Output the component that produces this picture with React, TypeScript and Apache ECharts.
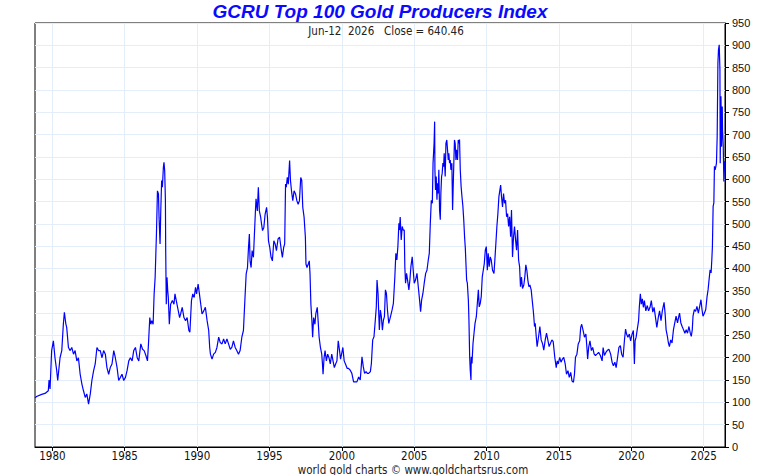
import React, { useEffect, useRef } from "react";
import * as echarts from "echarts";

const TITLE = "GCRU Top 100 Gold Producers Index";
const SUBTITLE = "Jun-12  2026   Close = 640.46";
const FOOTER = "world gold charts \u00A9 www.goldchartsrus.com";

const xTickYears = [1980, 1985, 1990, 1995, 2000, 2005, 2010, 2015, 2020, 2025];
const xMin = 1978.8;
const xMax = 2026.47;
const yMin = 0;
const yMax = 950;
const yStep = 50;

// [decimal year, index value]
const seg1978 = [
  [1978.8, 110], [1978.91, 113], [1979.26, 118], [1979.49, 120], [1979.72, 126], [1979.77, 150],
  [1979.84, 130], [1979.95, 216], [1980.07, 238], [1980.18, 200], [1980.3, 171], [1980.37, 149],
  [1980.53, 200], [1980.65, 216], [1980.76, 276], [1980.83, 302], [1980.93, 276], [1980.99, 268],
  [1981.11, 223], [1981.23, 216], [1981.34, 223], [1981.46, 208], [1981.57, 216], [1981.69, 193],
  [1981.8, 200], [1981.92, 163], [1982.04, 141], [1982.15, 126], [1982.27, 111], [1982.38, 119],
  [1982.5, 96], [1982.62, 119], [1982.73, 149], [1982.85, 171], [1982.96, 186], [1983.08, 223],
  [1983.19, 216], [1983.31, 216], [1983.43, 200], [1983.54, 216], [1983.66, 208], [1983.77, 178],
  [1983.89, 163], [1984.0, 178], [1984.12, 186], [1984.24, 216], [1984.35, 200], [1984.47, 178],
  [1984.58, 149], [1984.7, 156], [1984.81, 163], [1984.93, 149], [1985.05, 156], [1985.16, 171],
  [1985.28, 193], [1985.39, 200], [1985.51, 193], [1985.62, 216], [1985.74, 223], [1985.86, 200],
  [1985.97, 193],
];

const seg1986 = [
  [1986.11, 231], [1986.23, 219], [1986.34, 216], [1986.46, 205], [1986.57, 193], [1986.64, 231],
  [1986.73, 290], [1986.8, 275], [1986.87, 283], [1986.96, 275], [1987.03, 343], [1987.1, 380],
  [1987.19, 477], [1987.26, 574], [1987.33, 567], [1987.37, 515], [1987.44, 455], [1987.49, 530],
  [1987.55, 597], [1987.6, 582], [1987.67, 627], [1987.71, 638], [1987.76, 619], [1987.81, 552],
  [1987.83, 440], [1987.87, 320], [1987.92, 380], [1987.97, 350], [1988.01, 335], [1988.08, 275],
  [1988.17, 320], [1988.29, 328], [1988.4, 320], [1988.47, 343], [1988.56, 328], [1988.7, 305],
  [1988.79, 290], [1988.86, 298], [1988.97, 313], [1989.09, 290], [1989.2, 283], [1989.31, 290],
  [1989.43, 261], [1989.5, 257], [1989.61, 328], [1989.7, 343], [1989.8, 335], [1989.89, 358],
  [1989.96, 343], [1990.07, 365], [1990.16, 343], [1990.25, 320], [1990.34, 298], [1990.46, 305],
  [1990.57, 313], [1990.69, 283], [1990.8, 261], [1990.87, 223], [1990.92, 208], [1991.03, 197],
  [1991.14, 208], [1991.26, 212], [1991.37, 223], [1991.49, 246], [1991.6, 234], [1991.72, 231],
  [1991.83, 242], [1991.94, 231], [1992.06, 242], [1992.17, 231], [1992.29, 219], [1992.4, 223],
  [1992.51, 238], [1992.63, 223], [1992.74, 216], [1992.86, 208], [1992.97, 216], [1993.09, 246],
  [1993.2, 261],
];

const seg1993 = [
  [1993.32, 343], [1993.39, 388], [1993.48, 402], [1993.55, 447], [1993.61, 477], [1993.66, 417],
  [1993.73, 402], [1993.8, 440], [1993.89, 425], [1993.95, 470], [1994.02, 522], [1994.07, 556],
  [1994.16, 529], [1994.23, 582], [1994.3, 529], [1994.39, 515], [1994.45, 500], [1994.52, 485],
  [1994.61, 492], [1994.7, 522], [1994.8, 537], [1994.86, 515], [1994.93, 462], [1995.02, 447],
  [1995.11, 425], [1995.2, 417], [1995.3, 462], [1995.39, 455], [1995.48, 440], [1995.59, 466],
  [1995.7, 470], [1995.82, 440], [1995.89, 425], [1995.98, 447], [1996.05, 455], [1996.11, 589],
  [1996.16, 582], [1996.23, 604], [1996.3, 589], [1996.39, 642], [1996.45, 597], [1996.52, 574],
  [1996.61, 552], [1996.7, 574], [1996.8, 567], [1996.89, 552], [1996.98, 544], [1997.07, 552],
  [1997.16, 604], [1997.23, 597], [1997.3, 537], [1997.39, 515], [1997.48, 470], [1997.52, 410],
  [1997.59, 402], [1997.68, 410], [1997.75, 417], [1997.8, 388], [1997.86, 320], [1997.93, 283],
  [1997.98, 246], [1998.05, 290], [1998.14, 275], [1998.2, 298], [1998.3, 313], [1998.36, 283],
  [1998.43, 246], [1998.52, 223], [1998.61, 208], [1998.66, 186], [1998.7, 163], [1998.77, 200],
  [1998.84, 216], [1998.93, 193], [1999.02, 208], [1999.11, 200], [1999.2, 186], [1999.3, 208],
  [1999.39, 193], [1999.48, 178], [1999.57, 186], [1999.66, 193], [1999.75, 238], [1999.84, 216],
  [1999.91, 197], [1999.98, 208], [2000.07, 223], [2000.16, 193], [2000.25, 186],
];

const seg2000 = [
  [2000.37, 176], [2000.46, 176], [2000.58, 172], [2000.69, 165], [2000.81, 146], [2000.93, 146],
  [2001.04, 146], [2001.16, 157], [2001.27, 150], [2001.39, 202], [2001.48, 180], [2001.57, 165],
  [2001.67, 169], [2001.76, 165], [2001.85, 165], [2001.97, 169], [2002.04, 187], [2002.13, 240],
  [2002.22, 247], [2002.31, 284], [2002.38, 314], [2002.43, 374], [2002.5, 344], [2002.59, 262],
  [2002.66, 307], [2002.73, 292], [2002.8, 262], [2002.87, 284], [2002.94, 292], [2003.01, 352],
  [2003.08, 344], [2003.15, 307], [2003.24, 277], [2003.36, 292], [2003.47, 307], [2003.56, 322],
  [2003.66, 381], [2003.73, 434], [2003.8, 419], [2003.87, 449], [2003.94, 501], [2003.98, 486],
  [2004.03, 515], [2004.1, 464], [2004.17, 494], [2004.24, 486], [2004.31, 486], [2004.35, 404],
  [2004.4, 367], [2004.47, 389], [2004.54, 374], [2004.63, 352], [2004.7, 374], [2004.77, 404],
  [2004.86, 426], [2004.93, 396], [2005.0, 367], [2005.09, 374], [2005.19, 389], [2005.28, 359],
  [2005.37, 329], [2005.44, 303], [2005.51, 329], [2005.6, 344], [2005.69, 367], [2005.79, 389],
  [2005.88, 396], [2005.97, 419], [2006.04, 434], [2006.11, 501], [2006.18, 553], [2006.25, 546],
  [2006.3, 636], [2006.37, 680], [2006.41, 729],
];

const seg2006 = [
  [2006.43, 621], [2006.47, 576], [2006.52, 606], [2006.57, 554], [2006.61, 591], [2006.66, 568],
  [2006.7, 621], [2006.75, 531], [2006.8, 509], [2006.84, 568], [2006.89, 606], [2006.93, 613],
  [2006.98, 636], [2007.03, 628], [2007.07, 658], [2007.14, 606], [2007.19, 680], [2007.25, 688],
  [2007.3, 666], [2007.35, 643], [2007.39, 658], [2007.44, 636], [2007.49, 643], [2007.53, 621],
  [2007.6, 636], [2007.65, 531], [2007.71, 606], [2007.78, 688], [2007.83, 680], [2007.88, 643],
  [2007.92, 666], [2007.99, 643], [2008.04, 688], [2008.08, 680], [2008.13, 689], [2008.18, 621],
  [2008.24, 583], [2008.3, 560], [2008.36, 540], [2008.42, 509], [2008.48, 470], [2008.53, 445],
  [2008.62, 374], [2008.67, 367], [2008.74, 329], [2008.78, 284], [2008.83, 202], [2008.87, 172],
  [2008.92, 150], [2008.94, 202], [2008.99, 187], [2009.06, 232], [2009.13, 255], [2009.2, 277],
  [2009.29, 292], [2009.36, 322], [2009.43, 352], [2009.49, 314], [2009.56, 322], [2009.63, 337],
  [2009.7, 381], [2009.77, 396], [2009.84, 411], [2009.91, 441], [2009.98, 449], [2010.05, 396],
  [2010.11, 434], [2010.18, 404], [2010.25, 426], [2010.32, 419], [2010.41, 396], [2010.51, 389],
  [2010.57, 419], [2010.64, 456], [2010.71, 494], [2010.78, 523], [2010.85, 561], [2010.92, 576],
  [2010.97, 587], [2011.03, 561], [2011.1, 538], [2011.17, 568], [2011.24, 546], [2011.31, 553],
  [2011.38, 516], [2011.45, 523], [2011.52, 494], [2011.59, 516], [2011.66, 471], [2011.72, 531],
  [2011.79, 426], [2011.86, 471], [2011.93, 494], [2012.0, 464], [2012.07, 441], [2012.14, 486],
  [2012.21, 419], [2012.28, 404], [2012.34, 359], [2012.41, 381], [2012.48, 355], [2012.57, 363],
  [2012.64, 381], [2012.71, 408], [2012.78, 396], [2012.85, 374], [2012.92, 359], [2012.99, 363],
  [2013.08, 352], [2013.15, 329], [2013.22, 307], [2013.26, 292], [2013.31, 270], [2013.36, 277],
  [2013.43, 247], [2013.49, 225], [2013.59, 247], [2013.68, 270], [2013.77, 240], [2013.86, 232],
  [2013.95, 217], [2014.05, 240], [2014.14, 255], [2014.23, 240], [2014.32, 225], [2014.41, 232],
  [2014.51, 240], [2014.6, 236], [2014.71, 201],
];

const seg2014 = [
  [2014.81, 178], [2014.88, 193], [2014.95, 186], [2015.05, 201], [2015.14, 190], [2015.24, 197],
  [2015.33, 201], [2015.43, 186], [2015.52, 163], [2015.62, 171], [2015.71, 156], [2015.81, 167],
  [2015.9, 148], [2016.0, 145], [2016.07, 163], [2016.14, 201], [2016.24, 208], [2016.33, 231],
  [2016.43, 238], [2016.5, 268], [2016.57, 275], [2016.67, 261], [2016.76, 246], [2016.86, 253],
  [2016.93, 223], [2016.98, 197], [2017.05, 223], [2017.14, 238], [2017.24, 216], [2017.33, 223],
  [2017.43, 208], [2017.52, 205], [2017.62, 208], [2017.74, 212], [2017.86, 205], [2017.98, 193],
  [2018.05, 223], [2018.14, 205], [2018.24, 212], [2018.33, 216], [2018.45, 219], [2018.57, 208],
  [2018.67, 190], [2018.76, 182], [2018.86, 190], [2018.95, 178], [2019.05, 201], [2019.14, 223],
  [2019.24, 227], [2019.33, 208], [2019.43, 201], [2019.52, 238], [2019.6, 264], [2019.67, 253],
  [2019.76, 246], [2019.86, 253], [2019.95, 238], [2020.05, 253], [2020.14, 261], [2020.21, 186],
  [2020.26, 238], [2020.33, 246], [2020.43, 268], [2020.5, 283], [2020.55, 313], [2020.62, 343],
  [2020.69, 320], [2020.76, 332], [2020.83, 313], [2020.9, 328], [2021.0, 305], [2021.1, 317],
  [2021.19, 305], [2021.29, 313], [2021.38, 328], [2021.48, 302], [2021.57, 313], [2021.67, 290],
  [2021.76, 268], [2021.86, 290], [2021.95, 305], [2022.05, 283], [2022.14, 305], [2022.26, 324],
];

const seg2022 = [
  [2022.33, 300], [2022.4, 263], [2022.49, 248], [2022.56, 233], [2022.63, 225], [2022.72, 240],
  [2022.81, 233], [2022.91, 263], [2023.0, 278], [2023.09, 293], [2023.19, 278], [2023.28, 293],
  [2023.33, 300], [2023.42, 278], [2023.51, 270], [2023.6, 263], [2023.7, 255], [2023.79, 263],
  [2023.88, 255], [2023.98, 270], [2024.07, 255], [2024.14, 248], [2024.21, 263], [2024.26, 293],
  [2024.35, 308], [2024.44, 304], [2024.53, 315], [2024.63, 300], [2024.72, 315], [2024.81, 330],
  [2024.88, 308], [2024.95, 293], [2025.05, 300], [2025.14, 308], [2025.23, 337], [2025.3, 352],
  [2025.37, 375], [2025.44, 397], [2025.51, 390], [2025.56, 420], [2025.6, 449], [2025.63, 502],
  [2025.65, 539], [2025.7, 547], [2025.74, 629], [2025.79, 621], [2025.84, 629], [2025.88, 636],
  [2025.93, 696], [2025.98, 860], [2026.02, 890], [2026.07, 901], [2026.12, 845], [2026.14, 636],
  [2026.19, 786], [2026.23, 673], [2026.28, 763], [2026.3, 711], [2026.35, 673], [2026.39, 595],
  [2026.45, 640.46],
];

const NARROW = "'Liberation Sans Narrow', 'Arial Narrow', 'DejaVu Sans Condensed', 'Liberation Sans', Arial, sans-serif";
const SANS = "'Liberation Sans', Arial, sans-serif";

export default function App() {
  const ref = useRef<HTMLDivElement>(null);

  useEffect(() => {
    if (!ref.current) return;
    const chart = echarts.init(ref.current, null, { renderer: "svg" });
    const series = [...seg1978, ...seg1986, ...seg1993, ...seg2000, ...seg2006, ...seg2014, ...seg2022];
    const gridColor = "#e3eef9";
    chart.setOption({
      animation: false,
      backgroundColor: "#ffffff",
      title: {
        text: TITLE,
        left: "center",
        top: 1,
        padding: 0,
        textStyle: {
          fontFamily: SANS,
          fontSize: 19,
          lineHeight: 21,
          fontWeight: "bold",
          fontStyle: "italic",
          color: "#0a0aff",
        },
      },
      graphic: [
        {
          type: "text",
          x: 386,
          y: 30.5,
          style: {
            text: SUBTITLE,
            fill: "#222222",
            font: `11.5px ${NARROW}`,
            textAlign: "center",
            textVerticalAlign: "middle",
          },
        },
        {
          type: "text",
          x: 413,
          y: 469.5,
          style: {
            text: FOOTER,
            fill: "#222222",
            font: `11.5px ${NARROW}`,
            textAlign: "center",
            textVerticalAlign: "middle",
          },
        },
      ],
      grid: {
        left: 35,
        top: 23,
        right: 35,
        bottom: 28,
        show: true,
        borderColor: "#000000",
        borderWidth: 1,
        backgroundColor: "#ffffff",
      },
      xAxis: {
        type: "value",
        min: xMin,
        max: xMax,
        axisLine: { show: true, lineStyle: { color: "#000000", width: 1 } },
        axisTick: { show: true, length: 4, customValues: xTickYears, lineStyle: { color: "#000000" } },
        axisLabel: {
          customValues: xTickYears,
          color: "#111111",
          fontSize: 11.5,
          lineHeight: 12,
          fontFamily: NARROW,
          margin: 3,
          formatter: (v: number) => String(Math.round(v)),
        },
        splitLine: { show: true, lineStyle: { color: gridColor, width: 1 } },
      },
      yAxis: {
        type: "value",
        position: "right",
        min: yMin,
        max: yMax,
        interval: yStep,
        axisLine: { show: true, lineStyle: { color: "#000000", width: 1 } },
        axisTick: { show: true, length: 4, lineStyle: { color: "#000000" } },
        axisLabel: {
          color: "#111111",
          fontSize: 11,
          fontFamily: SANS,
          margin: 7,
        },
        splitLine: { show: true, lineStyle: { color: gridColor, width: 1 } },
      },
      series: [
        {
          type: "line",
          data: series,
          showSymbol: false,
          symbol: "none",
          lineStyle: { color: "#0000ff", width: 1.2 },
          silent: true,
        },
      ],
    });
    return () => chart.dispose();
  }, []);

  return (
    <div
      ref={ref}
      style={{ position: "absolute", left: 0, top: 0, width: 760, height: 475 }}
    />
  );
}
